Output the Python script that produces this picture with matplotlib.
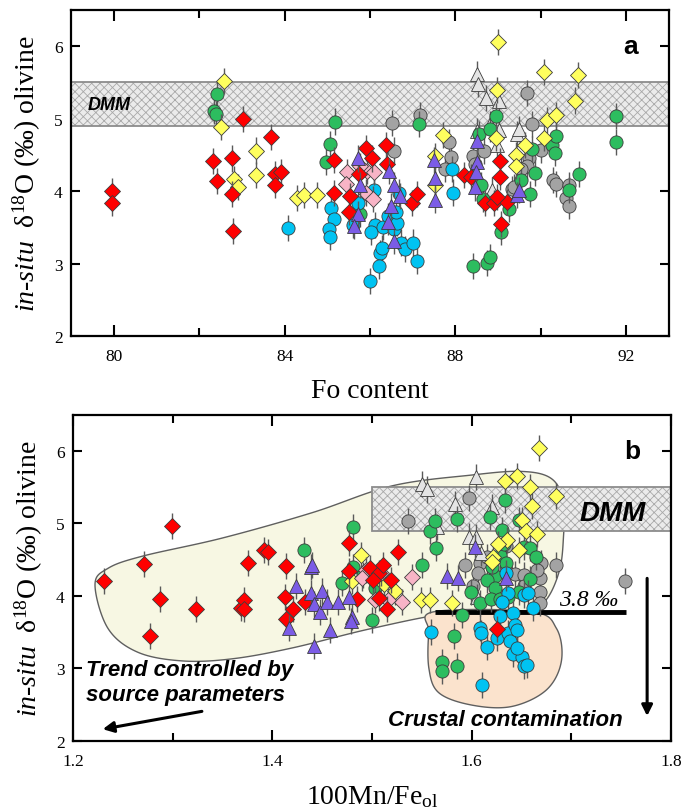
import numpy as np
import matplotlib.pyplot as plt
from matplotlib.patches import Rectangle, Polygon

plt.rcParams['font.family'] = 'Liberation Serif'
plt.rcParams['mathtext.fontset'] = 'custom'
plt.rcParams['mathtext.rm'] = 'Liberation Serif'
plt.rcParams['mathtext.it'] = 'Liberation Serif:italic'
plt.rcParams['hatch.linewidth'] = 0.6

# analytical uncertainty (1 sd, per mil)
ERR = 0.18
DMM = (4.9, 5.5)

# ---- panel a: Fo content vs d18O ----
a_red = [(79.95, 4.0), (79.95, 3.84), (82.32, 4.42), (82.41, 4.14), (82.77, 4.45), (82.77, 3.96),
         (82.80, 3.45), (83.02, 4.99), (83.69, 4.75), (83.78, 4.24), (83.78, 4.09), (83.92, 4.26),
         (85.16, 4.43), (85.16, 3.97), (85.53, 3.93), (85.50, 3.71), (85.74, 4.23), (85.90, 4.60),
         (86.04, 4.45), (86.38, 4.64), (86.40, 4.38), (86.99, 3.84), (87.11, 3.96), (88.19, 4.22),
         (88.36, 4.19), (88.70, 3.84), (88.90, 3.84), (89.04, 4.41), (89.04, 4.19), (89.07, 3.54),
         (89.20, 3.85), (88.97, 3.92)]
a_yellow = [(82.58, 5.52), (82.52, 4.88), (83.33, 4.56), (83.32, 4.22), (82.81, 4.16), (82.90, 4.06),
            (84.29, 3.90), (84.46, 3.94), (84.76, 3.95), (87.51, 4.49), (87.51, 4.09), (87.70, 4.78),
            (89.00, 6.06), (88.98, 5.40), (88.95, 4.73), (89.41, 4.50), (89.41, 4.34), (89.62, 4.63),
            (90.08, 5.65), (90.14, 4.98), (90.08, 4.73), (90.35, 5.05), (90.86, 5.60), (90.80, 5.25)]
a_pink = [(85.45, 4.26), (85.44, 4.10), (85.94, 4.28), (86.10, 4.27), (85.91, 3.98), (86.07, 3.89),
          (85.77, 4.35)]
a_green = [(82.41, 5.34), (82.34, 5.11), (82.40, 5.07), (85.18, 4.96), (85.07, 4.65), (84.97, 4.40),
           (87.14, 4.92), (88.54, 4.79), (88.60, 4.08), (88.65, 3.89), (88.96, 5.04), (88.82, 4.86),
           (88.41, 2.97), (88.75, 3.01), (88.82, 3.09), (89.07, 3.43), (89.26, 3.75), (89.53, 4.15),
           (89.74, 3.96), (89.87, 4.25), (89.79, 4.58), (90.27, 4.64), (90.35, 4.76), (90.32, 4.53),
           (90.65, 4.01), (90.89, 4.24), (91.75, 5.04), (91.75, 4.68), (85.77, 3.68)]
a_grey = [(86.52, 4.94), (86.57, 4.56), (87.18, 5.05), (87.85, 4.68), (87.89, 4.47), (87.75, 4.31),
          (88.41, 4.49), (88.46, 4.38), (88.67, 4.56), (89.68, 5.35), (89.80, 4.93), (89.73, 4.45),
          (89.68, 4.35), (90.00, 4.57), (90.29, 4.15), (90.35, 4.10), (90.60, 3.91), (90.65, 3.79),
          (90.65, 4.08), (89.33, 4.03), (89.38, 4.06), (89.53, 4.31)]
a_cyan = [(84.08, 3.49), (85.08, 3.76), (85.15, 3.62), (85.05, 3.48), (85.07, 3.37), (85.71, 3.84),
          (85.61, 3.53), (86.10, 4.01), (86.12, 3.53), (86.02, 3.43), (86.30, 3.50), (86.24, 3.15),
          (86.27, 3.21), (86.20, 2.97), (86.00, 2.76), (86.42, 3.66), (86.57, 3.48), (86.63, 3.56),
          (86.73, 3.29), (86.83, 3.20), (87.01, 3.29), (87.11, 3.04), (86.68, 3.98), (87.92, 4.31),
          (87.95, 3.98), (86.61, 3.71)]
a_purple = [(85.73, 4.45), (85.76, 4.09), (85.71, 3.68), (85.63, 3.52), (86.45, 4.28), (86.57, 4.08),
            (86.49, 3.80), (86.70, 3.93), (86.42, 3.58), (86.57, 3.31), (87.50, 4.43), (87.52, 4.18),
            (87.51, 3.88), (88.50, 4.69), (88.50, 4.40), (88.48, 4.26), (88.46, 4.05), (89.43, 3.94),
            (89.48, 4.01)]
a_white = [(88.51, 5.62), (88.53, 5.48), (88.72, 5.28), (89.02, 5.24), (88.82, 4.93), (88.51, 4.83),
           (89.02, 4.84), (88.97, 4.63), (89.43, 4.79), (89.48, 4.86), (88.85, 4.01)]

# ---- panel b: 100Mn/Fe vs d18O ----
b_red = [(1.231, 4.20), (1.271, 4.44), (1.277, 3.44), (1.287, 3.95), (1.299, 4.97), (1.323, 3.82),
         (1.368, 3.83), (1.372, 3.94), (1.371, 3.82), (1.376, 4.45), (1.392, 4.64), (1.396, 4.61),
         (1.413, 3.99), (1.414, 4.41), (1.414, 3.68), (1.421, 3.82), (1.433, 3.92), (1.477, 4.73),
         (1.485, 3.95), (1.498, 4.38), (1.507, 4.31), (1.511, 4.43), (1.501, 4.22), (1.507, 3.97),
         (1.515, 3.82), (1.519, 4.22), (1.526, 4.61), (1.477, 4.34), (1.625, 3.54)]
b_yellow = [(1.668, 6.04), (1.633, 5.59), (1.645, 5.65), (1.658, 5.50), (1.685, 5.38), (1.660, 5.24),
            (1.650, 5.05), (1.654, 4.89), (1.665, 4.86), (1.635, 4.77), (1.626, 4.72), (1.647, 4.64),
            (1.621, 4.54), (1.489, 4.57), (1.480, 4.20), (1.512, 4.17), (1.523, 4.06), (1.549, 3.94),
            (1.558, 3.94), (1.580, 3.90), (1.620, 4.47)]
b_pink = [(1.540, 4.26), (1.530, 3.92), (1.494, 4.36), (1.490, 4.24), (1.503, 3.94), (1.509, 4.31),
          (1.516, 3.94)]
b_green = [(1.432, 4.63), (1.470, 4.18), (1.481, 4.95), (1.481, 4.40), (1.491, 4.29), (1.503, 4.11),
           (1.500, 3.66), (1.550, 4.42), (1.558, 4.89), (1.563, 5.04), (1.564, 4.66), (1.585, 5.06),
           (1.590, 3.74), (1.582, 3.44), (1.570, 3.09), (1.570, 2.96), (1.585, 3.03), (1.599, 4.05),
           (1.608, 3.90), (1.618, 5.09), (1.633, 5.32), (1.630, 4.91), (1.628, 4.57), (1.634, 4.45),
           (1.623, 4.27), (1.615, 4.22), (1.620, 4.40), (1.623, 4.11), (1.619, 3.95), (1.628, 3.96),
           (1.636, 3.99), (1.647, 5.05), (1.652, 4.68), (1.658, 4.66), (1.664, 4.54), (1.658, 4.23),
           (1.647, 4.05), (1.632, 4.72)]
b_grey = [(1.536, 5.04), (1.597, 5.35), (1.593, 4.42), (1.601, 4.13), (1.608, 4.45), (1.615, 4.54),
          (1.606, 4.31), (1.634, 4.36), (1.643, 4.30), (1.652, 4.29), (1.669, 4.24), (1.669, 4.05),
          (1.669, 3.90), (1.670, 4.46), (1.685, 4.43), (1.754, 4.21), (1.634, 4.69), (1.665, 4.36),
          (1.652, 4.13)]
b_cyan = [(1.559, 3.50), (1.608, 3.55), (1.609, 3.49), (1.615, 3.29), (1.610, 2.77), (1.625, 3.42),
          (1.628, 3.72), (1.634, 4.31), (1.636, 4.04), (1.636, 3.49), (1.638, 3.37), (1.641, 3.76),
          (1.643, 3.60), (1.645, 3.53), (1.641, 3.19), (1.650, 3.16), (1.652, 3.03), (1.655, 3.05),
          (1.645, 3.28), (1.652, 4.01), (1.661, 3.83), (1.630, 3.92), (1.656, 4.04)]
b_purple = [(1.439, 4.40), (1.440, 4.43), (1.424, 4.13), (1.417, 3.55), (1.439, 4.04), (1.450, 4.06),
            (1.442, 3.89), (1.448, 3.77), (1.455, 3.92), (1.466, 3.92), (1.458, 3.53), (1.442, 3.30),
            (1.477, 3.99), (1.480, 3.71), (1.479, 3.65), (1.575, 4.27), (1.586, 4.24), (1.603, 4.68),
            (1.634, 4.24)]
b_white = [(1.550, 5.55), (1.555, 5.47), (1.604, 5.64), (1.583, 5.27), (1.620, 5.23), (1.565, 4.95),
           (1.597, 4.82), (1.604, 4.81), (1.609, 4.59), (1.605, 3.99)]

# outlines of the two fields in panel b
source_field = [(1.222, 4.15), (1.235, 4.38), (1.27, 4.55), (1.35, 4.80), (1.44, 5.15), (1.52, 5.52),
                (1.60, 5.67), (1.65, 5.72), (1.68, 5.62), (1.692, 5.30), (1.692, 4.80), (1.688, 4.35),
                (1.675, 3.95), (1.655, 3.78), (1.58, 3.76), (1.50, 3.55), (1.42, 3.28), (1.36, 3.13),
                (1.31, 3.10), (1.265, 3.22), (1.235, 3.55)]
crust_field = [(1.562, 3.78), (1.66, 3.78), (1.685, 3.55), (1.69, 3.10), (1.675, 2.70), (1.64, 2.47),
               (1.60, 2.49), (1.567, 2.66), (1.557, 3.00), (1.557, 3.50)]
cutoff = 3.78

# group name -> marker, face colour, marker size, zorder
styles = {
    'grey':   ('o', '#a3a3a3', 9.5, 3),
    'white':  ('^', '#e4e4e4', 10.5, 4),
    'green':  ('o', '#2dbd5f', 9.5, 5),
    'yellow': ('D', '#ffff5e', 8.0, 6),
    'cyan':   ('o', '#00c3f2', 9.5, 7),
    'pink':   ('D', '#f8b4c6', 8.0, 8),
    'red':    ('D', '#ff0000', 8.0, 9),
    'purple': ('^', '#7b5ce6', 10.5, 10),
}


def smooth_closed(pts, n=24):
    # closed Catmull-Rom curve through the outline points
    P = np.asarray(pts, dtype=float)
    N = len(P)
    t = np.linspace(0, 1, n, endpoint=False)[:, None]
    out = []
    for i in range(N):
        p0, p1, p2, p3 = P[i - 1], P[i], P[(i + 1) % N], P[(i + 2) % N]
        out.append(0.5 * (2 * p1 + (-p0 + p2) * t + (2 * p0 - 5 * p1 + 4 * p2 - p3) * t ** 2
                          + (-p0 + 3 * p1 - 3 * p2 + p3) * t ** 3))
    return np.vstack(out)


def draw_points(ax, groups):
    for name, pts in groups.items():
        marker, color, ms, z = styles[name]
        x, y = np.array(pts).T
        ax.errorbar(x, y, yerr=ERR, fmt=marker, ms=ms, mfc=color, mec='#3c3c3c', mew=0.6,
                    ecolor='#5a5a5a', elinewidth=1.0, capsize=0, zorder=z)


def style_axes(ax):
    for sp in ax.spines.values():
        sp.set_linewidth(1.6)
    ax.tick_params(which='both', direction='in', top=True, right=True, width=1.5, labelsize=12.5)
    ax.tick_params(axis='x', which='major', length=8, pad=9)
    ax.tick_params(axis='x', which='minor', length=5.5)
    ax.tick_params(axis='y', which='major', length=6.5, pad=6)
    ax.set_ylim(2, 6.5)
    ax.set_yticks([2, 3, 4, 5, 6])


def dmm_band(ax, x0, x1):
    ax.add_patch(Rectangle((x0, DMM[0]), x1 - x0, DMM[1] - DMM[0], facecolor='#ebebeb',
                           edgecolor='#a8a8a8', hatch='xxxx', lw=0, zorder=1.6))
    ax.add_patch(Rectangle((x0, DMM[0]), x1 - x0, DMM[1] - DMM[0], fill=False,
                           edgecolor='#8c8c8c', lw=1.3, zorder=1.7))


ylab = r"$\mathit{in}$-$\mathit{situ}$  δ$^{18}$O (‰) olivine"

fig = plt.figure(figsize=(6.83, 8.12), dpi=100)
ax1 = fig.add_axes([0.104, 0.585, 0.8755, 0.4015])
ax2 = fig.add_axes([0.107, 0.0868, 0.8755, 0.4009])

# panel a
style_axes(ax1)
ax1.set_xlim(79, 93)
ax1.set_xticks([80, 84, 88, 92])
ax1.set_xticks([82, 86, 90], minor=True)
dmm_band(ax1, 79, 93)
ax1.text(79.4, 5.2, 'DMM', family='Liberation Sans', weight='bold', style='italic',
         fontsize=13, va='center', ha='left', zorder=2)
draw_points(ax1, {'grey': a_grey, 'white': a_white, 'green': a_green, 'yellow': a_yellow,
                  'cyan': a_cyan, 'pink': a_pink, 'red': a_red, 'purple': a_purple})
ax1.text(92.1, 6.0, 'a', family='Liberation Sans', weight='bold', fontsize=19,
         ha='center', va='center')
ax1.set_xlabel('Fo content', fontsize=20, labelpad=10)
ax1.set_ylabel(ylab, fontsize=20, labelpad=8)

# panel b
style_axes(ax2)
ax2.set_xlim(1.2, 1.8)
ax2.set_xticks([1.2, 1.4, 1.6, 1.8])
ax2.set_xticks([1.3, 1.5, 1.7], minor=True)
ax2.xaxis.set_major_formatter(plt.FormatStrFormatter('%.1f'))
ax2.add_patch(Polygon(smooth_closed(source_field), closed=True, facecolor='#f7f7e3',
                      edgecolor='#5f5f5f', lw=1.0, zorder=1))
ax2.add_patch(Polygon(smooth_closed(crust_field), closed=True, facecolor='#fbe3cd',
                      edgecolor='#5f5f5f', lw=1.0, zorder=1))
dmm_band(ax2, 1.5, 1.8)
ax2.text(1.741, 5.15, 'DMM', family='Liberation Sans', weight='bold', style='italic',
         fontsize=20, va='center', ha='center', zorder=2)
ax2.plot([1.563, 1.755], [cutoff, cutoff], color='black', lw=3.5, zorder=2.5, solid_capstyle='butt')
ax2.text(1.717, 3.95, '3.8 ‰', style='italic', fontsize=17, ha='center', va='center')
draw_points(ax2, {'grey': b_grey, 'white': b_white, 'green': b_green, 'yellow': b_yellow,
                  'cyan': b_cyan, 'pink': b_pink, 'red': b_red, 'purple': b_purple})
ax2.annotate('', xy=(1.776, 2.3), xytext=(1.776, 4.28),
             arrowprops=dict(arrowstyle='-|>', color='black', lw=2.2, mutation_scale=16))
ax2.annotate('', xy=(1.227, 2.15), xytext=(1.332, 2.41),
             arrowprops=dict(arrowstyle='-|>', color='black', lw=2.2, mutation_scale=16))
ax2.text(1.213, 2.98, 'Trend controlled by', family='Liberation Sans', weight='bold',
         style='italic', fontsize=16, ha='left', va='center')
ax2.text(1.213, 2.63, 'source parameters', family='Liberation Sans', weight='bold',
         style='italic', fontsize=16, ha='left', va='center')
ax2.text(1.634, 2.29, 'Crustal contamination', family='Liberation Sans', weight='bold',
         style='italic', fontsize=16, ha='center', va='center')
ax2.text(1.761, 6.0, 'b', family='Liberation Sans', weight='bold', fontsize=19,
         ha='center', va='center')
ax2.set_xlabel(r'100Mn/Fe$_{\mathrm{ol}}$', fontsize=20, labelpad=10)
ax2.set_ylabel(ylab, fontsize=20, labelpad=8)

fig.savefig('out.png', dpi=100)
